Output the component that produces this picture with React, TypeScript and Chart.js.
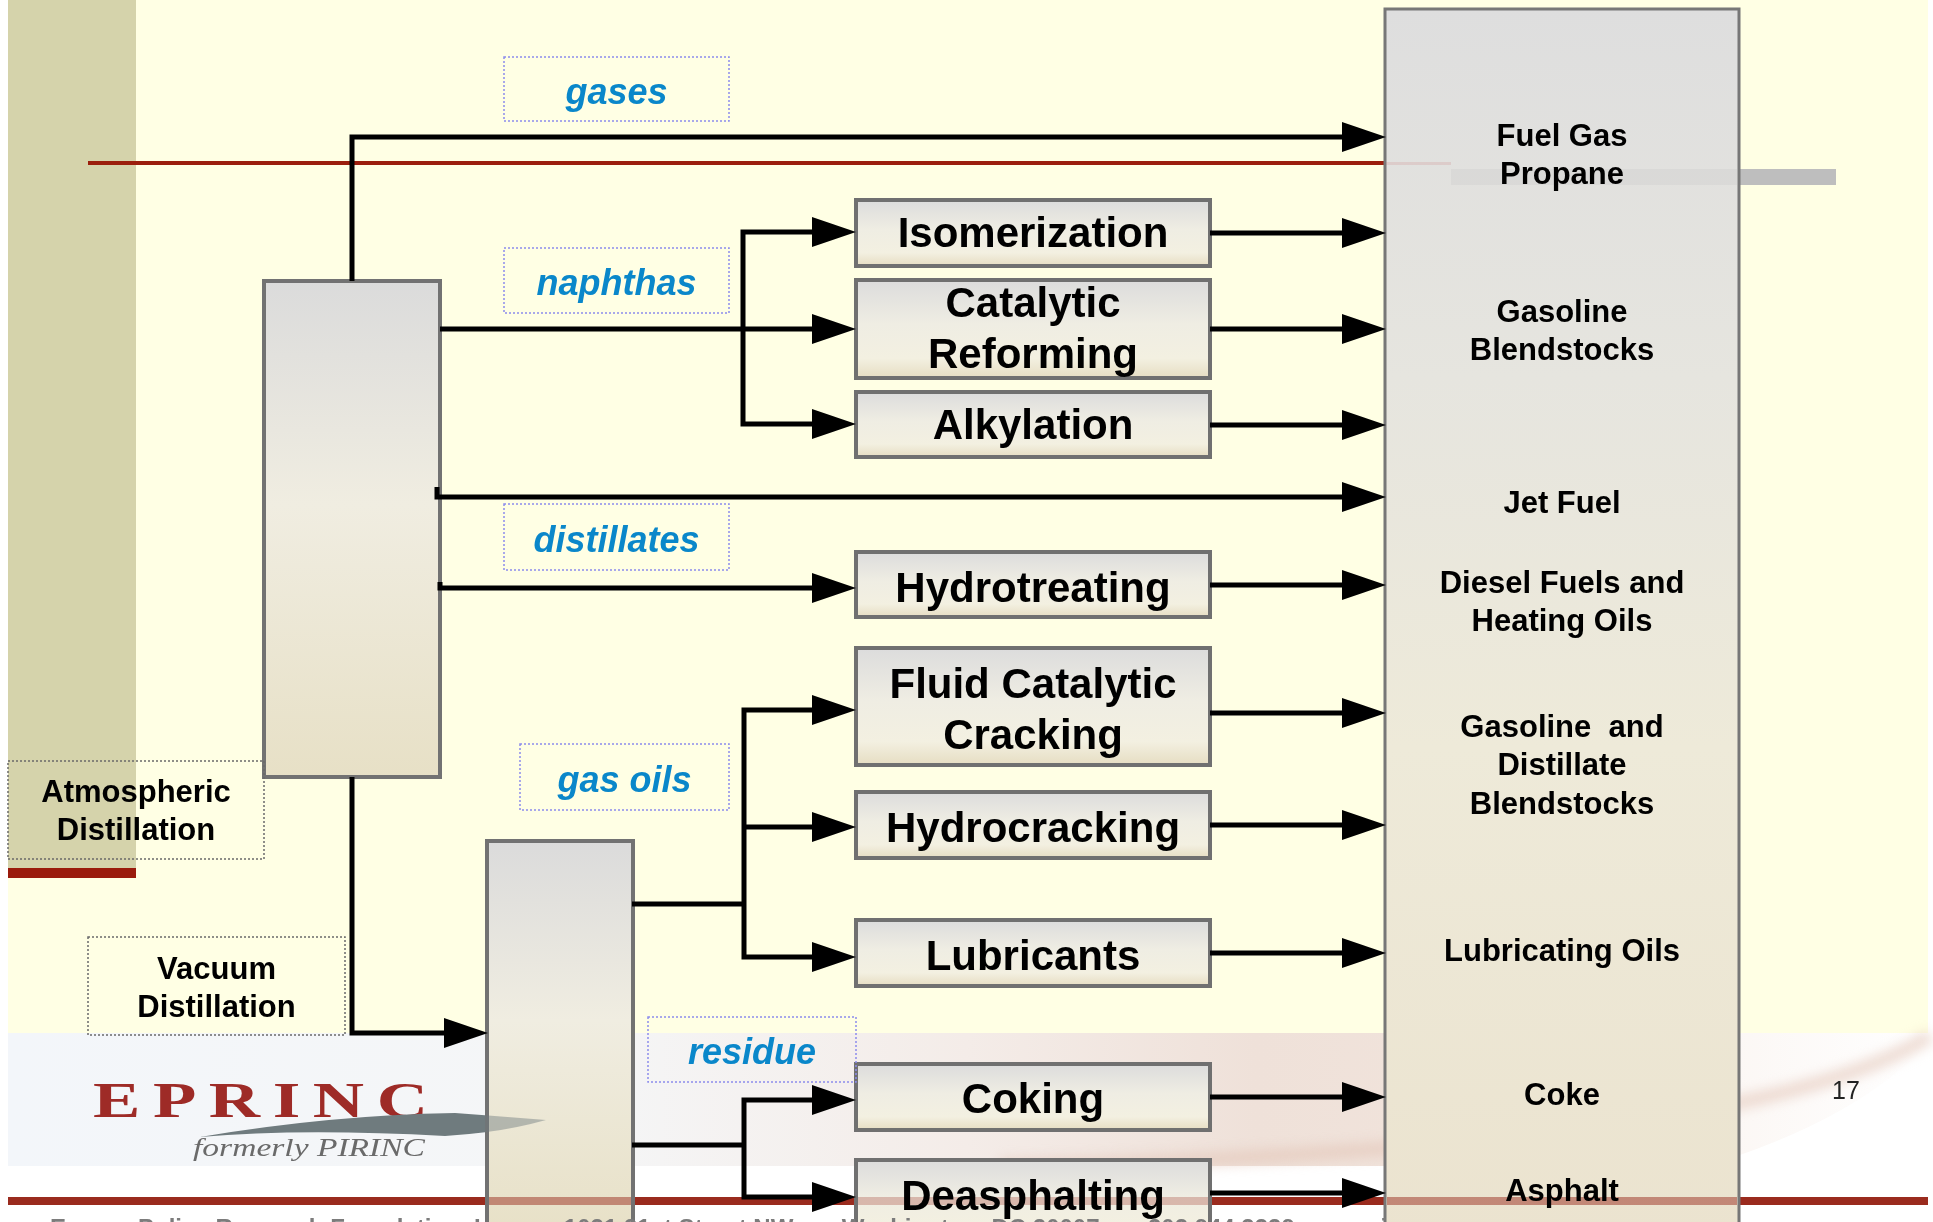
import { useEffect, useRef } from 'react';
import { Chart, registerables } from 'chart.js';

Chart.register(...registerables);

const W = 1933;
const H = 1222;

// ---------------- diagram content ----------------
// processing units (middle column)
const unitNames = [
  ['Isomerization'],
  ['Catalytic', 'Reforming'],
  ['Alkylation'],
  ['Hydrotreating'],
  ['Fluid Catalytic', 'Cracking'],
  ['Hydrocracking'],
  ['Lubricants'],
  ['Coking'],
  ['Deasphalting'],
];
const unitTop = [200, 280, 392, 552, 648, 792, 920, 1064, 1160];
const unitBottom = [266, 378, 457, 617, 765, 858, 986, 1130, 1240];
const unitLabelY = [[235], [305, 356], [427], [590], [686, 737], [830], [958], [1101], [1198]];
const unitInY = [232, 329, 424, 588, 710, 827, 957, 1100, 1197];
const unitOutY = [233, 329, 425, 585, 713, 825, 953, 1097, 1193];
const unitSpan = [856, 1210];

// product column (right)
const productLines = [
  ['Fuel Gas', 'Propane'],
  ['Gasoline', 'Blendstocks'],
  ['Jet Fuel'],
  ['Diesel Fuels and', 'Heating Oils'],
  ['Gasoline  and', 'Distillate', 'Blendstocks'],
  ['Lubricating Oils'],
  ['Coke'],
  ['Asphalt'],
];
const productFirstY = [137, 313, 504, 584, 728, 952, 1096, 1192];
const productBox = [1385, 9, 1739, 1240];

// stream labels
const streamNames = ['gases', 'naphthas', 'distillates', 'gas oils', 'residue'];
const streamX0 = [504, 504, 504, 520, 648];
const streamX1 = [729, 729, 729, 729, 856];
const streamY0 = [57, 248, 504, 744, 1017];
const streamY1 = [121, 313, 570, 810, 1082];

// distillation columns
const columnNames = [['Atmospheric', 'Distillation'], ['Vacuum', 'Distillation']];
const columnBox = [[264, 281, 440, 777], [487, 841, 633, 1240]];
const columnLabelBox = [[8, 761, 264, 859], [88, 937, 345, 1035]];
const columnLabelY = [[793, 831], [970, 1008]];

// flow lines (polylines)
const flowPaths: number[][][] = [
  [[352, 281], [352, 137], [1345, 137]], // gases
  [[440, 329], [812, 329]], // naphthas trunk
  [[812, 232], [743, 232], [743, 424], [812, 424]], // naphtha branches
  [[437, 487], [437, 497], [1345, 497]], // jet fuel
  [[440, 582], [440, 588], [812, 588]], // distillates
  [[352, 777], [352, 1033], [446, 1033]], // atmospheric bottoms
  [[632, 904], [744, 904]], // gas oils trunk
  [[812, 710], [744, 710], [744, 957], [812, 957]], // gas oil branches
  [[744, 827], [812, 827]],
  [[632, 1145], [744, 1145]], // residue trunk
  [[812, 1100], [744, 1100], [744, 1197], [812, 1197]], // residue branches
];
const extraArrowTips = [[1386, 137], [1386, 497], [488, 1033]];

const footerText =
  'Energy Policy Research Foundation, Inc.   \u2022   1031 31st Street NW   \u2022   Washington, DC 20007   \u2022   202.944.3339   \u2022   eprinc.org';

// ---------------- drawing helpers ----------------
const SANS = '"Liberation Sans", Arial, Helvetica, sans-serif';
const SERIF = '"Liberation Serif", "Times New Roman", serif';

const refineryPlugin = {
  id: 'refinery',
  beforeDatasetsDraw(chart: any) {
    const ctx: CanvasRenderingContext2D = chart.ctx;
    const X = (v: number) => chart.scales.x.getPixelForValue(v);
    const Y = (v: number) => chart.scales.y.getPixelForValue(v);
    const rect = (x0: number, y0: number, x1: number, y1: number, fill: any) => {
      ctx.fillStyle = fill;
      ctx.fillRect(X(x0), Y(y0), X(x1) - X(x0), Y(y1) - Y(y0));
    };
    ctx.save();
    // page
    rect(0, 0, W, H, '#FFFFFF');
    rect(8, 0, 1928, 1033, '#FFFFE4');
    // lower band with swoosh
    const band = ctx.createLinearGradient(X(8), 0, X(1928), 0);
    band.addColorStop(0, '#F3F6FA');
    band.addColorStop(0.3, '#F5F6F7');
    band.addColorStop(0.5, '#F4ECE8');
    band.addColorStop(0.65, '#EFE1D9');
    band.addColorStop(0.8, '#F1E4DC');
    band.addColorStop(0.88, '#FBF6F3');
    band.addColorStop(1, '#FFFFFF');
    rect(8, 1033, 1928, 1166, band);
    ctx.fillStyle = '#FFFFFF';
    ctx.beginPath();
    ctx.moveTo(X(1700), Y(1168));
    ctx.quadraticCurveTo(X(1860), Y(1120), X(1930), Y(1040));
    ctx.lineTo(X(1930), Y(1168));
    ctx.closePath();
    ctx.fill();
    ctx.strokeStyle = 'rgba(225,195,180,0.55)';
    ctx.lineWidth = 14;
    ctx.filter = 'blur(6px)';
    ctx.beginPath();
    ctx.moveTo(X(1000), Y(1166));
    ctx.quadraticCurveTo(X(1750), Y(1150), X(1930), Y(1036));
    ctx.stroke();
    ctx.filter = 'none';
    // olive strip
    rect(8, 0, 136, 868, '#D5D3AB');
    rect(8, 868, 136, 878, '#9A1B0C');
    // thin red rule and grey bar near top
    rect(88, 161, 1386, 165, '#9B1E0C');
    rect(1386, 162, 1451, 165, '#F2D9D6');
    rect(1451, 169, 1836, 185, '#BEBEBE');
    // bottom red rule
    rect(8, 1197, 1928, 1205, '#9A2B1E');

    // EPRINC logo text
    ctx.font = `bold 51px ${SERIF}`;
    ctx.fillStyle = '#9E2B27';
    ctx.textBaseline = 'alphabetic';
    ctx.textAlign = 'left';
    const logo = 'EPRINC';
    const widths = logo.split('').map((c) => ctx.measureText(c).width);
    const gap = 9;
    const total = widths.reduce((a, b) => a + b, 0) + gap * (logo.length - 1);
    ctx.save();
    ctx.translate(X(93), Y(1117));
    ctx.scale((X(428) - X(93)) / total, 1);
    let lx = 0;
    logo.split('').forEach((c, i) => {
      ctx.fillText(c, lx, 0);
      lx += widths[i] + gap;
    });
    ctx.restore();
    ctx.font = `italic 25px ${SERIF}`;
    ctx.fillStyle = '#6A6A6A';
    const fw = ctx.measureText('formerly PIRINC').width;
    ctx.save();
    ctx.translate(X(193), Y(1156));
    ctx.scale((X(425) - X(193)) / fw, 1);
    ctx.fillText('formerly PIRINC', 0, 0);
    ctx.restore();

    // boxes
    const gradBox = (x0: number, y0: number, x1: number, y1: number, stops: [number, string][], border: string, lw: number) => {
      const g = ctx.createLinearGradient(0, Y(y0), 0, Y(y1));
      stops.forEach(([o, c]) => g.addColorStop(o, c));
      rect(x0, y0, x1, y1, g);
      ctx.strokeStyle = border;
      ctx.lineWidth = lw;
      ctx.setLineDash([]);
      ctx.strokeRect(X(x0), Y(y0), X(x1) - X(x0), Y(y1) - Y(y0));
    };
    // product column
    const [px0, py0, px1, py1] = productBox;
    gradBox(px0, py0, px1, py1, [[0, '#DEDEDE'], [0.3, '#E6E5DF'], [0.6, '#EEEAD9'], [1, '#EBE3CF']], '#777777', 3);
    ctx.globalAlpha = 0.18;
    rect(1386, 162, 1451, 165, '#C87070');
    ctx.globalAlpha = 0.22;
    rect(1451, 169, 1737, 185, '#BEBEBE');
    ctx.globalAlpha = 1;
    // distillation columns
    columnBox.forEach(([x0, y0, x1, y1]) => {
      gradBox(x0, y0, x1, y1, [[0, '#DBDBDB'], [0.45, '#F0EDE1'], [1, '#E7E0C6']], '#727272', 4);
    });
    // logo swoosh (lighter where it crosses the vacuum column)
    const swoosh = () => {
      ctx.beginPath();
      ctx.moveTo(X(200), Y(1137));
      ctx.quadraticCurveTo(X(330), Y(1115), X(455), Y(1113));
      ctx.lineTo(X(546), Y(1120));
      ctx.quadraticCurveTo(X(500), Y(1133), X(445), Y(1136));
      ctx.quadraticCurveTo(X(300), Y(1128), X(200), Y(1137));
    };
    ctx.save();
    ctx.beginPath();
    ctx.rect(X(0), Y(1000), X(485) - X(0), Y(1200) - Y(1000));
    ctx.clip();
    ctx.fillStyle = '#6F7B7E';
    swoosh();
    ctx.fill();
    ctx.restore();
    ctx.save();
    ctx.beginPath();
    ctx.rect(X(485), Y(1000), X(600) - X(485), Y(1200) - Y(1000));
    ctx.clip();
    ctx.fillStyle = 'rgba(111,123,126,0.45)';
    swoosh();
    ctx.fill();
    ctx.restore();
    // processing units
    unitNames.forEach((_, i) => {
      gradBox(unitSpan[0], unitTop[i], unitSpan[1], unitBottom[i],
        [[0, '#DCDCDC'], [0.45, '#EFEDE3'], [0.8, '#F3F0E1'], [1, '#E6DDC2']], '#707070', 4);
    });
    // bottom red rule seen through the columns
    const overlay = (x0: number, x1: number, a: number) => {
      ctx.globalAlpha = a;
      rect(x0, 1197, x1, 1205, '#9A2B1E');
      ctx.globalAlpha = 1;
    };
    overlay(489, 631, 0.5);
    overlay(858, 1208, 0.28);
    overlay(1387, 1737, 0.5);

    // dotted label frames
    ctx.lineWidth = 1.5;
    ctx.setLineDash([2, 2]);
    ctx.strokeStyle = '#8C8CEB';
    streamNames.forEach((_, i) => {
      ctx.strokeRect(X(streamX0[i]), Y(streamY0[i]), X(streamX1[i]) - X(streamX0[i]), Y(streamY1[i]) - Y(streamY0[i]));
    });
    ctx.strokeStyle = '#6A6A6A';
    columnLabelBox.forEach(([x0, y0, x1, y1]) => {
      ctx.strokeRect(X(x0), Y(y0), X(x1) - X(x0), Y(y1) - Y(y0));
    });
    ctx.setLineDash([]);
    ctx.restore();
  },
  afterDatasetsDraw(chart: any) {
    const ctx: CanvasRenderingContext2D = chart.ctx;
    const X = (v: number) => chart.scales.x.getPixelForValue(v);
    const Y = (v: number) => chart.scales.y.getPixelForValue(v);
    ctx.save();
    // arrowheads
    const arrow = (tx: number, ty: number) => {
      ctx.fillStyle = '#000';
      ctx.beginPath();
      ctx.moveTo(X(tx), Y(ty));
      ctx.lineTo(X(tx - 44), Y(ty - 15));
      ctx.lineTo(X(tx - 44), Y(ty + 15));
      ctx.closePath();
      ctx.fill();
    };
    unitInY.forEach((y) => arrow(unitSpan[0], y));
    unitOutY.forEach((y) => arrow(productBox[0] + 1, y));
    extraArrowTips.forEach(([x, y]) => arrow(x, y));

    const txt = (s: string, x: number, y: number, font: string, color: string) => {
      ctx.font = font;
      ctx.fillStyle = color;
      ctx.textAlign = 'center';
      ctx.textBaseline = 'middle';
      ctx.fillText(s, X(x), Y(y));
    };
    const ucx = (unitSpan[0] + unitSpan[1]) / 2;
    unitNames.forEach((lines, i) => {
      lines.forEach((s, j) => txt(s, ucx, unitLabelY[i][j], `bold 42px ${SANS}`, '#000'));
    });
    const pcx = (productBox[0] + productBox[2]) / 2;
    productLines.forEach((lines, i) => {
      lines.forEach((s, j) => txt(s, pcx, productFirstY[i] + j * 38.5, `bold 31px ${SANS}`, '#000'));
    });
    streamNames.forEach((s, i) => {
      txt(s, (streamX0[i] + streamX1[i]) / 2, (streamY0[i] + streamY1[i]) / 2 + 5, `italic bold 36px ${SANS}`, '#0A87CA');
    });
    columnNames.forEach((lines, i) => {
      const [x0, , x1] = columnLabelBox[i];
      lines.forEach((s, j) => txt(s, (x0 + x1) / 2, columnLabelY[i][j], `bold 31px ${SANS}`, '#000'));
    });
    txt('17', 1846, 1092, `25px ${SANS}`, '#222');
    // footer (mostly cut off at the bottom edge)
    ctx.font = `bold 24px ${SANS}`;
    ctx.fillStyle = '#7C7C7C';
    ctx.textAlign = 'left';
    ctx.textBaseline = 'alphabetic';
    ctx.fillText(footerText, X(50), Y(1236), X(1790) - X(50));
    ctx.restore();
  },
};

export default function App() {
  const ref = useRef<HTMLCanvasElement | null>(null);
  useEffect(() => {
    document.body.style.margin = '0';
    document.body.style.background = '#FFFFFF';
    const canvas = ref.current;
    if (!canvas) return;
    const lines = [
      ...flowPaths,
      ...unitOutY.map((y) => [[unitSpan[1], y], [productBox[0] - 42, y]]),
    ];
    const chart = new Chart(canvas, {
      type: 'scatter',
      data: {
        datasets: lines.map((pts) => ({
          data: pts.map(([x, y]) => ({ x, y })),
          showLine: true,
          borderColor: '#000000',
          backgroundColor: '#000000',
          borderWidth: 5,
          pointRadius: 0,
          pointHoverRadius: 0,
          tension: 0,
          borderJoinStyle: 'miter',
          borderCapStyle: 'butt',
        })),
      } as any,
      options: {
        animation: false,
        responsive: false,
        devicePixelRatio: 1,
        events: [],
        layout: { padding: 0 },
        plugins: { legend: { display: false }, tooltip: { enabled: false } },
        scales: {
          x: { type: 'linear', min: 0, max: W, display: false },
          y: { type: 'linear', min: 0, max: H, reverse: true, display: false },
        },
      } as any,
      plugins: [refineryPlugin],
    });
    return () => chart.destroy();
  }, []);
  return <canvas ref={ref} width={W} height={H} style={{ display: 'block', width: W, height: H }} />;
}
